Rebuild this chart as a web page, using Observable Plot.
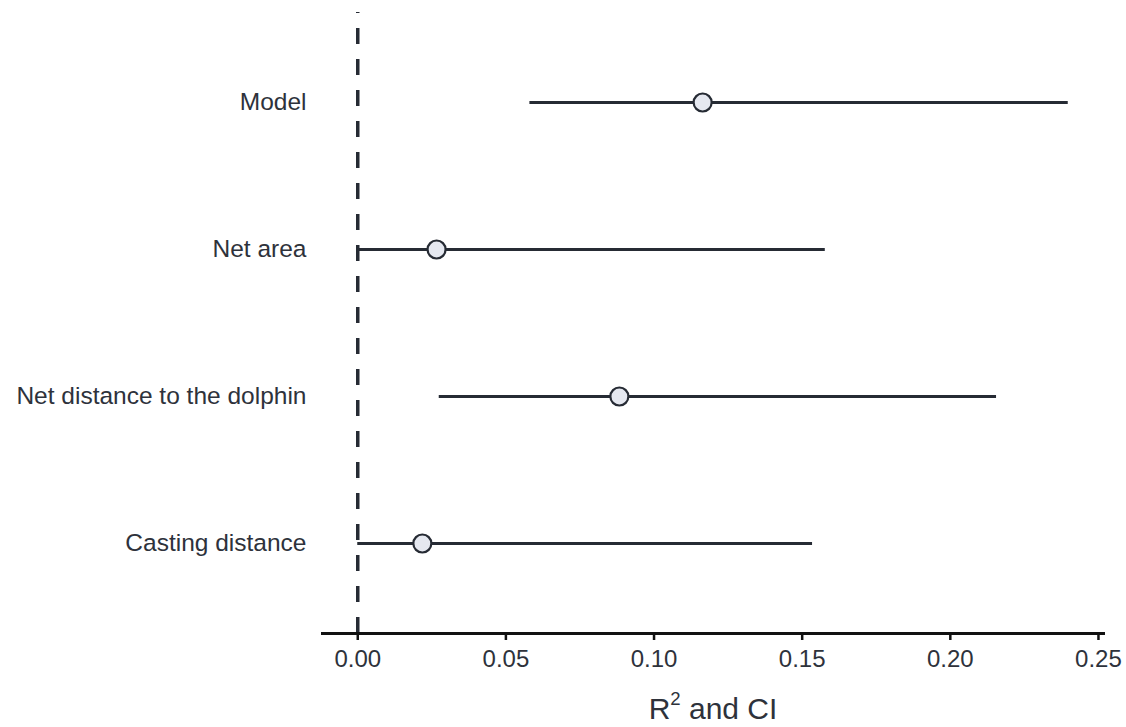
<!DOCTYPE html>
<html>
<head>
<meta charset="utf-8">
<script src="https://cdn.jsdelivr.net/npm/d3@7"></script>
<script src="https://cdn.jsdelivr.net/npm/@observablehq/plot@0.6"></script>
<style>
  html, body { margin: 0; padding: 0; background: #fff; }
  #chart svg { display: block; }
</style>
</head>
<body>
<div id="chart"></div>
<script>
const categories = ["Model", "Net area", "Net distance to the dolphin", "Casting distance"];
const estimates = [0.1164, 0.0266, 0.0883, 0.0218];
const lower = [0.0581, 0.0, 0.0275, 0.0];
const upper = [0.2398, 0.1578, 0.2156, 0.1535];
const xTicks = [0, 0.05, 0.10, 0.15, 0.20, 0.25];
const xTitle = "R2 and CI";

const rows = categories.map((c, i) => ({cat: c, est: estimates[i], lo: lower[i], hi: upper[i]}));
const ink = "#262b34";

const chart = Plot.plot({
  width: 1126,
  height: 727,
  marginTop: 12,
  marginBottom: 94,
  marginLeft: 322,
  marginRight: 23,
  style: {fontFamily: "'Liberation Sans', Arial, sans-serif", fontSize: "24px", color: "#2e323b", background: "#fff"},
  x: {domain: [-0.0119, 0.2517]},
  y: {type: "point", domain: categories, padding: 0.6},
  marks: [
    Plot.ruleX([0], {stroke: ink, strokeWidth: 3.5, strokeDasharray: "16,15", strokeDashoffset: 15}),
    Plot.frame({anchor: "bottom", stroke: "#111", strokeWidth: 3}),
    Plot.ruleY(rows, {y: "cat", x1: "lo", x2: "hi", stroke: ink, strokeWidth: 3}),
    Plot.dot(rows, {x: "est", y: "cat", r: 9, fill: "#e5e8f0", stroke: ink, strokeWidth: 2.2}),
    Plot.axisY({tickSize: 0, tickPadding: 16, fontSize: 24.5, label: null}),
    Plot.axisX({ticks: xTicks, tickFormat: d3.format(".2f"), tickSize: 7, tickPadding: 9, strokeWidth: 2.5, stroke: "#111", fontSize: 24, label: null}),
    Plot.text([xTitle], {frameAnchor: "bottom", dy: 85, fontSize: 30, fill: "#2e323b"})
  ]
});
document.getElementById("chart").appendChild(chart);

// Render the axis title with a real superscript "2"
d3.select(chart).selectAll("text").filter(function() { return this.textContent === xTitle; }).each(function() {
  const t = d3.select(this);
  t.text(null);
  t.append("tspan").text("R");
  t.append("tspan").attr("font-size", "0.62em").attr("dy", "-0.75em").text("2");
  t.append("tspan").attr("dy", "0.465em").text(" and CI");
});
</script>
</body>
</html>
